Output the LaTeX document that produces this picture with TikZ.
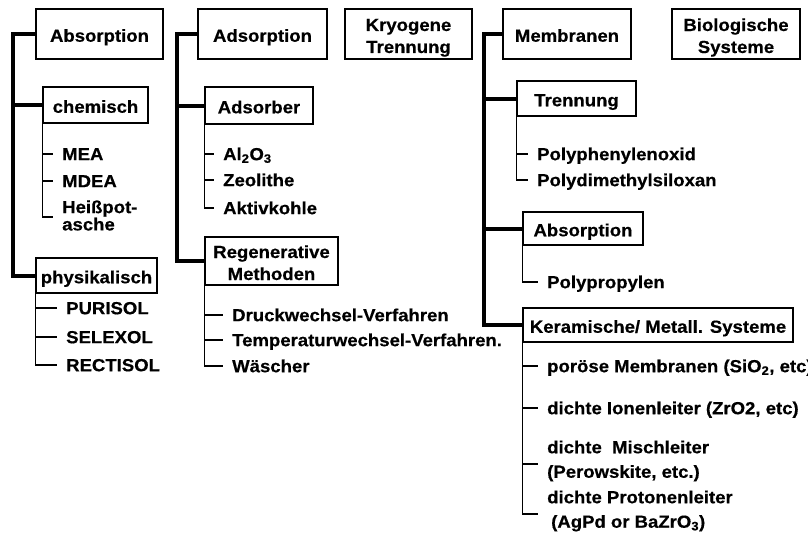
\documentclass[tikz,border=0pt]{standalone}
\usepackage{fontspec}
\setmainfont{Liberation Sans}[UprightFont={* Bold},BoldFont={* Bold},FakeStretch=1.06,FakeBold=0.5]
\usetikzlibrary{positioning}
\newcommand{\twolines}[2]{\rule{0pt}{19.7pt}#1\\#2\rule[-3.7pt]{0pt}{3.7pt}}

\begin{document}
\begin{tikzpicture}[x=1pt,y=-1pt,
                    font=\fontsize{17.5}{22}\selectfont\bfseries,
                    box/.style={draw,line width=1.3pt,inner sep=0pt,align=center},
                    onebox/.style={box,text height=15.5pt,text depth=0pt},
                    item/.style={anchor=west,inner xsep=9pt,inner ysep=0pt,
                                 text height=14.5pt,text depth=2.1pt},
                    itemtwo/.style={anchor=west,inner xsep=9pt,inner ysep=0pt,align=left},
                    trunk/.style={line width=4pt},
                    twig/.style={line width=1.5pt}]
\useasboundingbox (0,0) rectangle (808,533);
% top row
\node[onebox,minimum width=127pt,minimum height=50pt] (abs)  at (99.5,34)  {Absorption};
\node[onebox,minimum width=129pt,minimum height=50pt] (ads)  at (262.5,34) {Adsorption};
\node[box,minimum width=127pt,minimum height=50pt] (kryo) at (408.5,34) {\twolines{Kryogene}{Trennung}};
\node[onebox,minimum width=128pt,minimum height=50pt] (mem)  at (567,34)   {Membranen};
\node[box,minimum width=128pt,minimum height=50pt] (bio)  at (736,34) {\twolines{Biologische}{Systeme}};
% Absorption
\node[onebox,minimum width=105pt,minimum height=36pt] (chem) at (95.5,105)  {chemisch};
\node[onebox,minimum width=121pt,minimum height=35pt] (phys) at (96.5,275.5) {physikalisch};
\node[item] (mea)   at (53,154) {MEA};
\node[item] (mdea)  at (53,181) {MDEA};
\node[itemtwo,font=\fontsize{17.5}{14.5}\selectfont\bfseries] (heiss) at (53,215.5) {Heißpot-\\asche};
\node[item] (puri)  at (57,308) {PURISOL};
\node[item] (selex) at (57,337) {SELEXOL};
\node[item] (recti) at (57,365) {RECTISOL};
\coordinate (t1) at (13,275.5);
\draw[trunk] (abs.west) -| (t1) |- (phys.west);
\draw[trunk] (chem.west) -- (chem.west -| t1);
\draw[twig] (chem.south west) |- (mea.west);
\draw[twig] (chem.south west) |- (mdea.west);
\draw[twig] (chem.south west) |- ([yshift=-1.5pt]heiss.west);
\draw[twig] (phys.south west) |- (puri.west);
\draw[twig] (phys.south west) |- (selex.west);
\draw[twig] (phys.south west) |- (recti.west);
% Adsorption
\node[onebox,minimum width=108pt,minimum height=37pt] (adsb)  at (259,105.5) {Adsorber};
\node[box,minimum width=133pt,minimum height=48pt] (regen) at (271.5,261) {\twolines{Regenerative}{Methoden}};
\node[item] (alox)  at (214,154) {Al\textsubscript{2}O\textsubscript{3}};
\node[item] (zeo)   at (214,180) {Zeolithe};
\node[item] (aktiv) at (214,208) {Aktivkohle};
\node[item] (druck) at (223,315) {Druckwechsel-Verfahren};
\node[item] (temp)  at (223,340) {Temperaturwechsel-Verfahren.};
\node[item] (wasch) at (223,366) {Wäscher};
\coordinate (t2) at (177,261);
\draw[trunk] (ads.west) -| (t2) |- (regen.west);
\draw[trunk] (adsb.west) -- (adsb.west -| t2);
\draw[twig] (adsb.south west) |- (alox.west);
\draw[twig] (adsb.south west) |- (zeo.west);
\draw[twig] (adsb.south west) |- (aktiv.west);
\draw[twig] (regen.south west) |- (druck.west);
\draw[twig] (regen.south west) |- (temp.west);
\draw[twig] (regen.south west) |- (wasch.west);
% Membranen
\node[onebox,minimum width=119pt,minimum height=35pt] (tren) at (576.5,98.5) {Trennung};
\node[onebox,minimum width=120pt,minimum height=33pt] (abstwo) at (583,228.5) {Absorption};
\node[onebox,minimum width=270pt,minimum height=34pt] (ker) at (658,325) {Keramische/ Metall. Systeme};
\node[item] (ppo)   at (528,154) {Polyphenylenoxid};
\node[item] (pdms)  at (528,180) {Polydimethylsiloxan};
\node[item] (pp)    at (538,282) {Polypropylen};
\node[item] (poros) at (538,366) {poröse Membranen (SiO\textsubscript{2}, etc)};
\node[item] (ionen) at (538,408) {dichte Ionenleiter (ZrO2, etc)};
\node[itemtwo,font=\fontsize{17.5}{24.5}\selectfont\bfseries] (misch) at (538,461)
      {dichte\ \ Mischleiter\\(Perowskite, etc.)};
\node[itemtwo,font=\fontsize{17.5}{24.5}\selectfont\bfseries] (proton) at (538,511)
      {dichte Protonenleiter\\\hspace*{4pt}(AgPd or BaZrO\textsubscript{3})};
\coordinate (t4) at (484,324);
\draw[trunk] (mem.west) -| (t4) |- (ker.west);
\draw[trunk] (tren.west) -- (tren.west -| t4);
\draw[trunk] (abstwo.west) -- (abstwo.west -| t4);
\draw[twig] (tren.south west) |- (ppo.west);
\draw[twig] (tren.south west) |- (pdms.west);
\draw[twig] (abstwo.south west) |- (pp.west);
\draw[twig] (ker.south west) |- (poros.west);
\draw[twig] (ker.south west) |- (ionen.west);
\draw[twig] (ker.south west) |- ([yshift=-3pt]misch.west);
\draw[twig] (ker.south west) |- ([yshift=-3pt]proton.west);
\end{tikzpicture}
\end{document}
